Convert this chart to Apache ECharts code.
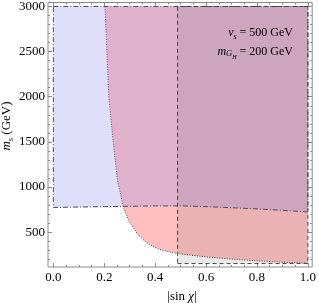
<!DOCTYPE html>
<html><head><meta charset="utf-8">
<script src="https://cdn.jsdelivr.net/npm/echarts@6/dist/echarts.min.js"></script>
<style>html,body{margin:0;padding:0;background:#fff}#c{width:319px;height:304px}</style>
</head><body><div id="c"></div>
<script>
// ---- tick values ----
const xTicks = [0, 0.2, 0.4, 0.6, 0.8, 1.0];
const xMinorTicks = [0.05, 0.1, 0.15, 0.25, 0.3, 0.35, 0.45, 0.5, 0.55, 0.65, 0.7, 0.75, 0.85, 0.9, 0.95];
const yTicks = [500, 1000, 1500, 2000, 2500, 3000];
const yMinorTicks = [200, 300, 400, 600, 700, 800, 900, 1100, 1200, 1300, 1400, 1600, 1700, 1800, 1900,
  2100, 2200, 2300, 2400, 2600, 2700, 2800, 2900];

// ---- blue region (dash-dot boundary): x in [0,1], m from lower curve up to 3000 ----
const blueX = [0, 0.2, 0.4, 0.5, 0.6, 0.7, 0.8, 0.9, 1.0];
const blueLowM = [773, 782, 790, 790, 782, 770, 757, 741, 723];
const blueTopM = 3000;

// ---- red region (dotted boundary): right of / above curve ----
const redX = [0.203, 0.2105, 0.218, 0.235, 0.252, 0.275, 0.296, 0.33, 0.363, 0.395, 0.428, 0.488, 0.6, 0.7, 0.8, 0.9, 1.0];
const redM = [3000, 2500, 2000, 1500, 1073, 780, 630, 480, 390, 335, 299, 262, 225, 200, 181, 166, 155];

// ---- gray region (dashed boundary): rectangle ----
const grayX = [0.488, 1.0];
const grayM = [151, 3000];

const XMIN = -0.021, XMAX = 1.017, YMIN = 113, YMAX = 3044;
const SERIF = "'Liberation Serif','DejaVu Serif',serif";
const FRAME = '#8a8a8a';

function mkX(pos, ticks, len, labels) {
  return {
    type: 'value', position: pos, min: XMIN, max: XMAX,
    axisLine: { show: false, onZero: false },
    splitLine: { show: false },
    axisTick: { show: true, inside: true, length: len, customValues: ticks, lineStyle: { color: FRAME, width: 1 } },
    axisLabel: labels ? { show: true, customValues: ticks, formatter: v => v.toFixed(1), fontFamily: SERIF, fontSize: 13, color: '#000', margin: 4 } : { show: false }
  };
}
function mkY(pos, ticks, len, labels) {
  return {
    type: 'value', position: pos, min: YMIN, max: YMAX,
    axisLine: { show: false, onZero: false },
    splitLine: { show: false },
    axisTick: { show: true, inside: true, length: len, customValues: ticks, lineStyle: { color: FRAME, width: 1 } },
    axisLabel: labels ? { show: true, customValues: ticks, formatter: v => String(v), fontFamily: SERIF, fontSize: 13, color: '#000', margin: 3 } : { show: false }
  };
}

function pts(api, xs, ys) { return xs.map((x, i) => api.coord([x, ys[i]])); }

const chart = echarts.init(document.getElementById('c'), null, { renderer: 'canvas' });
chart.setOption({
  animation: false,
  grid: { left: 48, right: 4, top: 2, bottom: 37, show: true, borderColor: FRAME, borderWidth: 1, backgroundColor: 'transparent' },
  xAxis: [mkX('bottom', xTicks, 4, true), mkX('bottom', xMinorTicks, 2, false), mkX('top', xTicks, 4, false), mkX('top', xMinorTicks, 2, false)],
  yAxis: [mkY('left', yTicks, 4, true), mkY('left', yMinorTicks, 2, false), mkY('right', yTicks, 4, false), mkY('right', yMinorTicks, 2, false)],
  series: [
    { // red region
      type: 'custom', xAxisIndex: 0, yAxisIndex: 0, data: [0], z: 2, clip: true,
      renderItem: function (params, api) {
        const curve = pts(api, redX, redM);
        const poly = curve.concat([api.coord([redX[redX.length - 1], blueTopM])]);
        return { type: 'group', children: [
          { type: 'polygon', shape: { points: poly }, style: { fill: 'rgba(255,60,60,0.33)', stroke: null } },
          { type: 'polyline', shape: { points: curve }, style: { fill: null, stroke: '#4a3a44', lineWidth: 1, lineDash: [1, 1.5] } }
        ] };
      }
    },
    { // blue region
      type: 'custom', xAxisIndex: 0, yAxisIndex: 0, data: [0], z: 3, clip: true,
      renderItem: function (params, api) {
        const low = pts(api, blueX, blueLowM);
        const poly = [api.coord([blueX[0], blueTopM]), api.coord([blueX[blueX.length - 1], blueTopM])].concat(low.slice().reverse());
        return { type: 'polygon', shape: { points: poly }, style: { fill: 'rgba(140,140,240,0.28)', stroke: '#4a4a60', lineWidth: 1, lineDash: [5, 2, 1, 2] } };
      }
    },
    { // gray region
      type: 'custom', xAxisIndex: 0, yAxisIndex: 0, data: [0], z: 4, clip: true,
      renderItem: function (params, api) {
        const poly = [api.coord([grayX[0], grayM[0]]), api.coord([grayX[1], grayM[0]]), api.coord([grayX[1], grayM[1]]), api.coord([grayX[0], grayM[1]])];
        return { type: 'polygon', shape: { points: poly }, style: { fill: 'rgba(80,80,80,0.12)', stroke: '#444', lineWidth: 1, lineDash: [4, 3] } };
      }
    }
  ],
  graphic: [
    { type: 'text', x: 293, y: 34, z: 10, style: {
        text: '{i|v}{s|s}{n| = 500 GeV}', align: 'right', verticalAlign: 'middle',
        rich: {
          i: { fontFamily: SERIF, fontSize: 12, fontStyle: 'italic', lineHeight: 14, padding: [0, 0, 3, 0], verticalAlign: 'top', fill: '#000' },
          s: { fontFamily: SERIF, fontSize: 8, fontStyle: 'italic', lineHeight: 9, verticalAlign: 'bottom', fill: '#000' },
          n: { fontFamily: SERIF, fontSize: 12, lineHeight: 14, padding: [0, 0, 3, 0], verticalAlign: 'top', fill: '#000' }
        } } },
    { type: 'text', x: 293, y: 53, z: 10, style: {
        text: '{i|m}{g|G}{h|H}{n| = 200 GeV}', align: 'right', verticalAlign: 'middle',
        rich: {
          i: { fontFamily: SERIF, fontSize: 12, fontStyle: 'italic', lineHeight: 14, padding: [0, 0, 4, 0], verticalAlign: 'top', fill: '#000' },
          g: { fontFamily: SERIF, fontSize: 8.5, fontStyle: 'italic', lineHeight: 10, padding: [0, 0, 2, 0], verticalAlign: 'bottom', fill: '#000' },
          h: { fontFamily: SERIF, fontSize: 6, fontStyle: 'italic', lineHeight: 7, verticalAlign: 'bottom', fill: '#000' },
          n: { fontFamily: SERIF, fontSize: 12, lineHeight: 14, padding: [0, 0, 4, 0], verticalAlign: 'top', fill: '#000' }
        } } },
    { type: 'text', x: 8, y: 126, rotation: Math.PI / 2, z: 10, style: {
        text: '{i|m}{s|s}{n| (GeV)}', align: 'center', verticalAlign: 'middle',
        rich: {
          i: { fontFamily: SERIF, fontSize: 13, fontStyle: 'italic', lineHeight: 15, padding: [0, 0, 3, 0], verticalAlign: 'top', fill: '#000' },
          s: { fontFamily: SERIF, fontSize: 8.5, fontStyle: 'italic', lineHeight: 10, verticalAlign: 'bottom', fill: '#000' },
          n: { fontFamily: SERIF, fontSize: 13, lineHeight: 15, padding: [0, 0, 3, 0], verticalAlign: 'top', fill: '#000' }
        } } },
    { type: 'text', x: 182, y: 297, z: 10, style: {
        text: '{n||sin }{i|χ}{n||}', align: 'center', verticalAlign: 'middle',
        rich: {
          n: { fontFamily: SERIF, fontSize: 13, fill: '#000' },
          i: { fontFamily: SERIF, fontSize: 13, fontStyle: 'italic', fill: '#000' }
        } } }
  ]
});
</script>
</body></html>
